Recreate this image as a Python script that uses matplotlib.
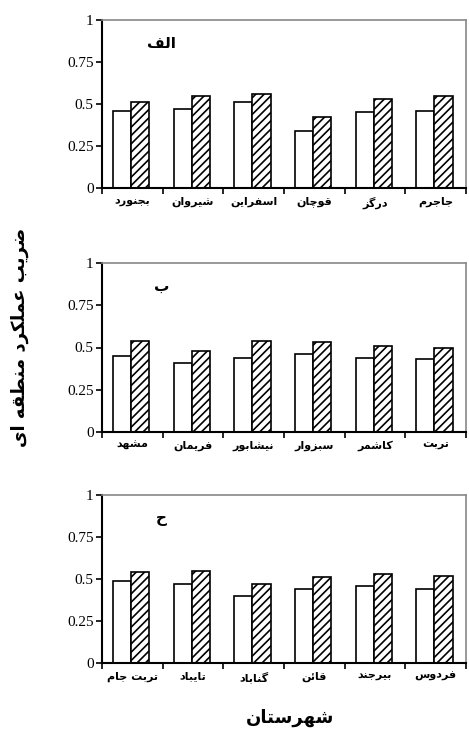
import numpy as np
import matplotlib
matplotlib.use("Agg")
import matplotlib.pyplot as plt

# ---- data ----------------------------------------------------------------
panel_tags = ["الف", "ب", "ح"]
cities_a = ["بجنورد", "شیروان", "اسفراین", "قوچان", "درگز", "جاجرم"]
cities_b = ["مشهد", "فریمان", "نیشابور", "سبزوار", "کاشمر", "تربت"]
cities_c = ["تربت جام", "تایباد", "گناباد", "قائن", "بیرجند", "فردوس"]

white_a = [0.46, 0.47, 0.51, 0.34, 0.45, 0.46]
hatch_a = [0.51, 0.55, 0.56, 0.42, 0.53, 0.55]
white_b = [0.45, 0.41, 0.44, 0.46, 0.44, 0.43]
hatch_b = [0.54, 0.48, 0.54, 0.53, 0.51, 0.50]
white_c = [0.49, 0.47, 0.40, 0.44, 0.46, 0.44]
hatch_c = [0.54, 0.55, 0.47, 0.51, 0.53, 0.52]

yticks = [0, 0.25, 0.5, 0.75, 1]
ytick_labels = ["0", "0.25", "0.5", "0.75", "1"]
x_title = "شهرستان"
y_title = "ضریب عملکرد منطقه ای"

# ---- tiny arabic shaper (matplotlib has no complex text layout) ------------
# letter: (isolated, final, initial, medial) ; None = does not join forward
FORMS = {
    "ا": (0xFE8D, 0xFE8E, None, None),
    "ب": (0xFE8F, 0xFE90, 0xFE91, 0xFE92),
    "ت": (0xFE95, 0xFE96, 0xFE97, 0xFE98),
    "ج": (0xFE9D, 0xFE9E, 0xFE9F, 0xFEA0),
    "ح": (0xFEA1, 0xFEA2, 0xFEA3, 0xFEA4),
    "د": (0xFEA9, 0xFEAA, None, None),
    "ر": (0xFEAD, 0xFEAE, None, None),
    "ز": (0xFEAF, 0xFEB0, None, None),
    "س": (0xFEB1, 0xFEB2, 0xFEB3, 0xFEB4),
    "ش": (0xFEB5, 0xFEB6, 0xFEB7, 0xFEB8),
    "ض": (0xFEBD, 0xFEBE, 0xFEBF, 0xFEC0),
    "ط": (0xFEC1, 0xFEC2, 0xFEC3, 0xFEC4),
    "ع": (0xFEC9, 0xFECA, 0xFECB, 0xFECC),
    "ف": (0xFED1, 0xFED2, 0xFED3, 0xFED4),
    "ق": (0xFED5, 0xFED6, 0xFED7, 0xFED8),
    "ل": (0xFEDD, 0xFEDE, 0xFEDF, 0xFEE0),
    "م": (0xFEE1, 0xFEE2, 0xFEE3, 0xFEE4),
    "ن": (0xFEE5, 0xFEE6, 0xFEE7, 0xFEE8),
    "ه": (0xFEE9, 0xFEEA, 0xFEEB, 0xFEEC),
    "و": (0xFEED, 0xFEEE, None, None),
    "ئ": (0xFE89, 0xFE8A, 0xFE8B, 0xFE8C),
    "ی": (0xFBFC, 0xFBFD, 0xFBFE, 0xFBFF),
    "ک": (0xFB8E, 0xFB8F, 0xFB90, 0xFB91),
    "گ": (0xFB92, 0xFB93, 0xFB94, 0xFB95),
    "چ": (0xFB7A, 0xFB7B, 0xFB7C, 0xFB7D),
}


def fa(s):
    out = []
    for i, ch in enumerate(s):
        if ch not in FORMS:
            out.append(ch)
            continue
        prev = s[i - 1] if i > 0 else " "
        nxt = s[i + 1] if i < len(s) - 1 else " "
        joins_prev = prev in FORMS and FORMS[prev][2] is not None
        joins_next = nxt in FORMS and FORMS[ch][2] is not None
        f = FORMS[ch]
        if joins_prev and joins_next:
            code = f[3]
        elif joins_prev:
            code = f[1]
        elif joins_next:
            code = f[2]
        else:
            code = f[0]
        out.append(chr(code))
    return "".join(out[::-1])


# ---- figure ----------------------------------------------------------------
W, H = 469, 729
fig = plt.figure(figsize=(W / 100, H / 100), dpi=100)

panels = [
    (cities_a, white_a, hatch_a, 20, 188),
    (cities_b, white_b, hatch_b, 263, 432),
    (cities_c, white_c, hatch_c, 495, 663),
]
left_px, right_px = 102, 466
plt.rcParams["hatch.linewidth"] = 1.2

for k, (cities, w, h, top_px, bot_px) in enumerate(panels):
    ax = fig.add_axes([left_px / W, 1 - bot_px / H,
                       (right_px - left_px) / W, (bot_px - top_px) / H])
    x = np.arange(len(cities))
    ax.bar(x - 0.17, w, width=0.3, color="white", edgecolor="black", linewidth=1.2)
    ax.bar(x + 0.13, h, width=0.3, color="white", edgecolor="black",
           linewidth=1.2, hatch="////")
    ax.set_xlim(-0.5, len(cities) - 0.5)
    ax.set_ylim(0, 1)
    ax.set_yticks(yticks)
    ax.set_yticklabels(ytick_labels, family="Liberation Serif", fontsize=11)
    ax.set_xticks(np.arange(len(cities) + 1) - 0.5)
    ax.set_xticklabels([])
    ax.set_xticks(x, minor=True)
    ax.set_xticklabels([fa(c) for c in cities], minor=True,
                       family="DejaVu Sans", fontweight="bold", fontsize=8)
    ax.tick_params(axis="x", which="minor", length=0, pad=6)
    ax.tick_params(axis="x", which="major", length=4, width=1.2, direction="out")
    ax.tick_params(axis="y", length=4, width=1.2, pad=2)
    for s in ["left", "bottom"]:
        ax.spines[s].set_linewidth(1.5)
    for s in ["top", "right"]:
        ax.spines[s].set_color("#888888")
        ax.spines[s].set_linewidth(1.2)
    ax.text(0.48, 0.86, fa(panel_tags[k]), family="DejaVu Sans",
            fontweight="bold", fontsize=11, ha="center", va="center")

fig.text(290 / W, 1 - 718 / H, fa(x_title), family="DejaVu Sans",
         fontweight="bold", fontsize=13, ha="center", va="center")
fig.text(20 / W, 1 - 337 / H, fa(y_title), family="DejaVu Sans",
         fontweight="bold", fontsize=13, ha="center", va="center", rotation=90)

fig.savefig("out.png", dpi=100)
